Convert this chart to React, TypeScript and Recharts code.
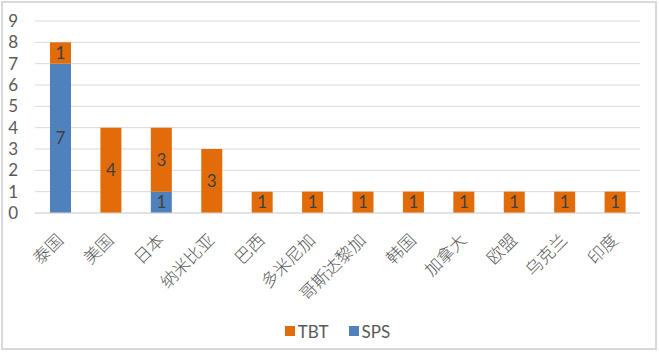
import { Bar, BarChart, CartesianGrid, LabelList, Legend, XAxis, YAxis } from 'recharts';

const countries = ['泰国', '美国', '日本', '纳米比亚', '巴西', '多米尼加', '哥斯达黎加', '韩国', '加拿大', '欧盟', '乌克兰', '印度'];
const sps = [7, 0, 1, 0, 0, 0, 0, 0, 0, 0, 0, 0];
const tbt = [1, 4, 3, 3, 1, 1, 1, 1, 1, 1, 1, 1];
const yTicks = [0, 1, 2, 3, 4, 5, 6, 7, 8, 9];

const BLUE = '#4f81bd';
const ORANGE = '#e36c0a';
const TEXT = '#595959';
const FONT = 'Lato, "Noto Sans CJK SC", sans-serif';
const CJK = '"Noto Sans CJK SC", sans-serif';

const legendItems = [
  { name: 'TBT', color: ORANGE },
  { name: 'SPS', color: BLUE }
];

const rows = countries.map((name, i) => ({ name, SPS: sps[i], TBT: tbt[i] }));

const hideZero = (v: any) => (v ? v : '');

function XTick({ x, y, payload }: any) {
  const px = x;
  const py = y + 16;
  return (
    <text
      x={px}
      y={py}
      dy="0.35em"
      textAnchor="end"
      transform={`rotate(-45 ${px} ${py})`}
      fill={TEXT}
      fontSize={17}
      fontWeight={300}
      fontFamily={CJK}
    >
      {payload.value}
    </text>
  );
}

function LegendBox() {
  return (
    <div style={{ display: 'flex', justifyContent: 'center', gap: 20, height: 20, alignItems: 'center', fontFamily: FONT, fontSize: 17, color: TEXT, paddingLeft: 35 }}>
      {legendItems.map((it) => (
        <span key={it.name} style={{ display: 'flex', alignItems: 'center', gap: 3 }}>
          <span style={{ width: 10, height: 10, background: it.color, display: 'inline-block' }} />
          {it.name}
        </span>
      ))}
    </div>
  );
}

export default function App() {
  return (
    <div style={{ position: 'absolute', left: 0, top: 0, width: 659, height: 353, background: '#fff' }}>
      <BarChart width={659} height={353} data={rows} margin={{ top: 21, right: 19, left: 0, bottom: 12 }}>
        <CartesianGrid vertical={false} stroke="#d9d9d9" />
        <XAxis
          dataKey="name"
          interval={0}
          height={108}
          tickLine={false}
          axisLine={{ stroke: '#d9d9d9' }}
          tick={<XTick />}
        />
        <YAxis
          width={35}
          domain={[0, 9]}
          ticks={yTicks}
          interval={0}
          axisLine={false}
          tickLine={false}
          tickMargin={11}
          tick={{ fill: TEXT, fontSize: 17, fontFamily: FONT }}
        />
        <Legend verticalAlign="bottom" content={<LegendBox />} />
        <Bar dataKey="SPS" stackId="a" fill={BLUE} barSize={21} isAnimationActive={false}>
          <LabelList dataKey="SPS" position="center" fill="#404040" fontSize={17} fontFamily={FONT} formatter={hideZero} />
        </Bar>
        <Bar dataKey="TBT" stackId="a" fill={ORANGE} barSize={21} isAnimationActive={false}>
          <LabelList dataKey="TBT" position="center" fill="#404040" fontSize={17} fontFamily={FONT} formatter={hideZero} />
        </Bar>
      </BarChart>
      <div style={{ position: 'absolute', left: 1, top: 1, width: 656, height: 349, border: '2px solid #d9d9d9', boxSizing: 'border-box', pointerEvents: 'none' }} />
    </div>
  );
}
